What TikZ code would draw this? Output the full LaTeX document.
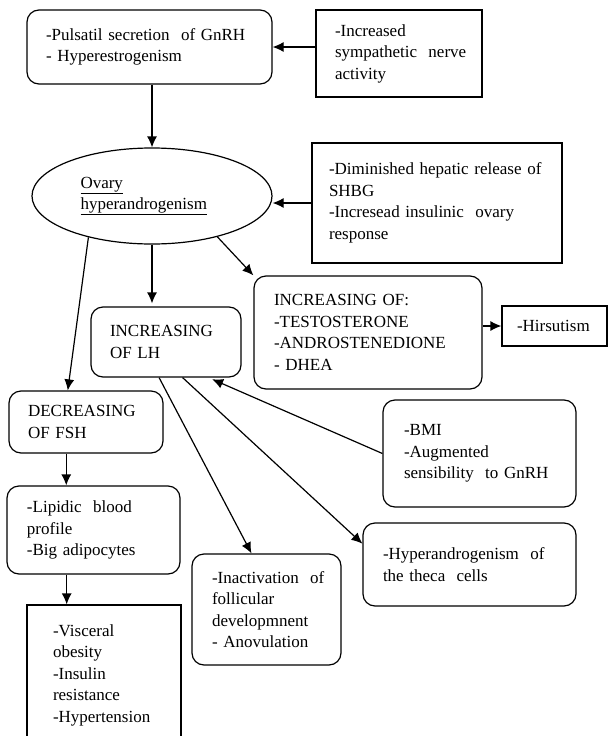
\documentclass[tikz,border=0pt]{standalone}
\usepackage{fontspec}
\setmainfont{Liberation Serif}
\usepackage{tikz}
\usetikzlibrary{arrows.meta,positioning,shapes.geometric}

\hyphenpenalty=10000
\exhyphenpenalty=10000

\tikzset{
	box/.style={draw,line width=1.2pt,align=left,inner ysep=0pt,
		font=\fontsize{17}{21.5}\selectfont},
	rbox/.style={box,rounded corners=12pt},
	arr/.style={-{Latex[length=11pt,width=10pt]},line width=1.2pt}}

\begin{document}
\begin{tikzpicture}[x=1pt,y=-1pt]
		\useasboundingbox (0,0) rectangle (609,736);
		
		\node[rbox,text width=207pt,inner xsep=19pt,minimum height=74pt] (gnrh) at (149.5,47)
		{-Pulsatil~secretion~~of~GnRH\\- Hyperestrogenism};
		\node[box,text width=128pt,inner xsep=19pt,minimum height=87pt] (symp) at (399,53.5)
		{-Increased\\sympathetic~~nerve\\activity};
		\node[box,ellipse,minimum width=240pt,minimum height=96pt,inner sep=0pt,text width=143pt] (ovary) at (152,196)
		{\underline{Ovary}\\\underline{hyperandrogenism}};
		\node[box,text width=216pt,inner xsep=17pt,minimum height=120pt] (shbg) at (437,203)
		{-Diminished~hepatic~release~of\\SHBG\\-Incresead~insulinic~~ovary\\response};
		\node[rbox,text width=112pt,inner xsep=19pt,minimum height=70pt] (lh) at (166,342)
		{INCREASING\\OF~LH};
		\node[rbox,text width=188pt,inner xsep=20pt,minimum height=113pt] (incr) at (368,332.5)
		{INCREASING~OF:\\-TESTOSTERONE\\-ANDROSTENEDIONE\\- DHEA};
		\node[box,text width=75pt,inner xsep=15pt,minimum height=40pt] (hirs) at (554.5,326)
		{-Hirsutism};
		\node[rbox,text width=116pt,inner xsep=19pt,minimum height=62pt] (fsh) at (86,422)
		{DECREASING\\OF~FSH};
		\node[rbox,text width=133pt,inner xsep=20pt,minimum height=88pt] (lipid) at (93.5,530)
		{-Lipidic~~blood\\profile\\-Big~adipocytes};
		\node[box,text width=102pt,inner xsep=26pt,minimum height=140pt] (visc) at (104,675)
		{-Visceral\\obesity\\-Insulin\\resistance\\-Hypertension};
		\node[rbox,text width=109pt,inner xsep=20pt,minimum height=111pt] (inact) at (266.5,609.5)
		{-Inactivation~~of\\follicular\\developmnent\\- Anovulation};
		\node[rbox,text width=151pt,inner xsep=21pt,minimum height=107pt] (bmi) at (479.5,453.5)
		{-BMI\\-Augmented\\sensibility~~to~GnRH};
		\node[rbox,text width=173pt,inner xsep=20pt,minimum height=83pt] (theca) at (469.5,564.5)
		{-Hyperandrogenism~~of\\the~theca~~cells};
		
		\draw[arr] (symp.west |- gnrh.east) -- (gnrh.east);
		\draw[arr] (ovary.north |- gnrh.south) -- (ovary.north);
		\draw[arr] (shbg.west) -- (shbg.west -| ovary.east);
		\draw[arr] (ovary.213) -- (fsh.120);
		\draw[arr,shorten >=3pt] (ovary.south) -- (ovary.south |- lh.north);
		\draw[arr] (ovary.328) -- (incr.north west);
		\draw[arr] (incr.east |- hirs.west) -- (hirs.west);
		\draw[arr] (fsh.238) -- (fsh.238 |- lipid.north);
		\draw[arr] (lipid.239) -- (lipid.239 |- visc.north);
		\draw[arr] (lh.259) -- (inact.105);
		\draw[arr] (lh.295) -- (theca.169);
		\draw[arr,shorten >=4pt] (bmi.west) -- (lh.320);
\end{tikzpicture}
\end{document}
